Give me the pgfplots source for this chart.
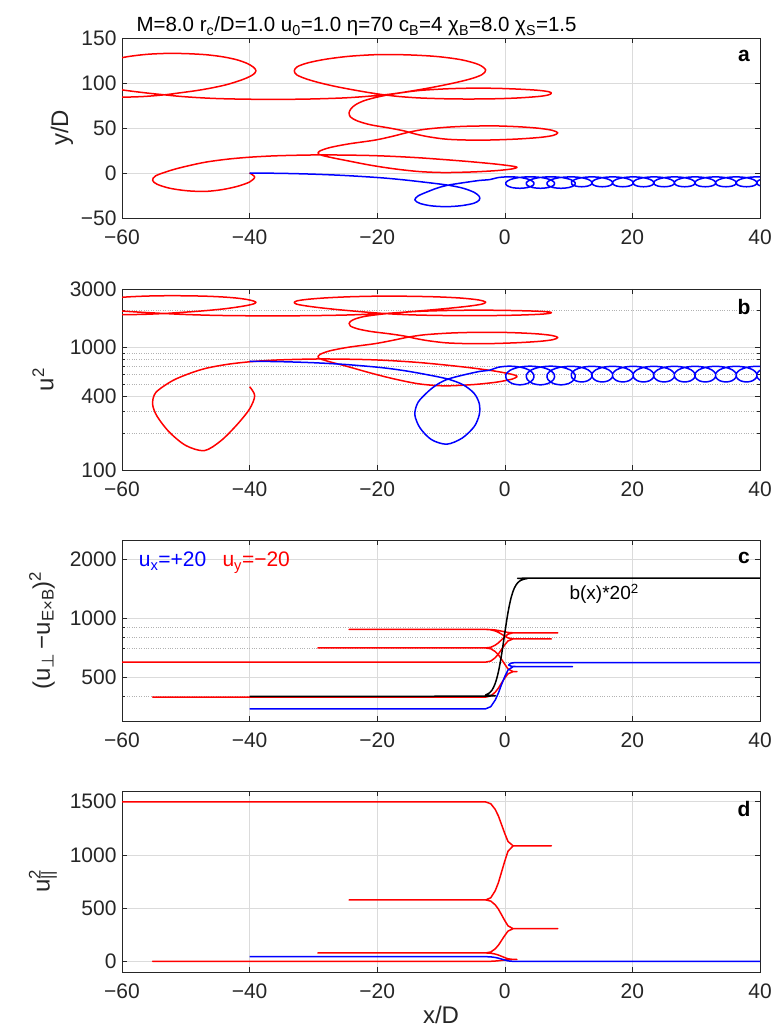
\documentclass[border=0pt]{standalone}
\usepackage{fontspec}
\setmainfont{Liberation Sans}
\newfontfamily\dejavu{DejaVu Sans}
\usepackage{pgfplots}
\pgfplotsset{compat=1.18}
\definecolor{mred}{rgb}{1,0,0}
\definecolor{mblue}{rgb}{0,0,1}
\definecolor{axgray}{HTML}{262626}
\pgfplotsset{
  mpanel/.style={
    scale only axis, width=638pt, height=180pt,
    xmin=-60, xmax=40, xtick={-60,-40,-20,0,20,40},
    xticklabels={−60,−40,−20,0,20,40},
    tick align=inside, major tick length=5pt, minor tick length=3pt,
    grid=major, major grid style={draw=black!14, line width=0.6pt},
    minor grid style={draw=black!30, dotted, line width=0.6pt},
    axis line style={draw=axgray, line width=0.7pt},
    every tick/.style={draw=axgray, line width=0.6pt},
    tick label style={font=\fontsize{21}{21}\selectfont, text=axgray},
    xticklabel style={yshift=-8pt},
    yticklabel style={xshift=-2pt},
  },
  traj/.style={line width=1.5pt, line join=round},
}
\newcommand{\plab}[1]{\node[font=\bfseries\fontsize{21}{21}\selectfont] at (rel axis cs:0.975,0.9) {#1};}

\begin{document}
\begin{tikzpicture}
\useasboundingbox (0pt,0pt) rectangle (772pt,-1030pt);

% ---------- a: trajectories ----------
\begin{axis}[mpanel, at={(122pt,-38pt)}, anchor=north west,
  ymin=-50, ymax=150, ytick={-50,0,50,100,150}, yticklabels={−50,0,50,100,150}]
\addplot[traj, mred, smooth] coordinates {
(-40,0) (-39.2,-4.5) (-40,-10) (-42,-15) (-44.5,-18.7) (-47.1,-20.5) (-50,-19.6) (-52.6,-16.8) (-54.5,-12.5) (-55.2,-8.2) (-54.7,-3) (-52.1,3.5) (-49.3,8.5) (-46.7,12.3) (-43.3,15.5) (-39.9,17.6) (-36.3,19) (-32.8,19.7) (-29,20.1) (-25,19.9) (-21,19.4) (-17.3,18.4) (-13.4,16.9) (-9.5,14.9) (-5.6,12.7) (-1.8,10.2) (0.5,8.3) (1.7,7.0) (1.9,6.0) (1.2,4.6) (-0.3,3.3) (-1.8,2.4) (-5,1.2) (-9.5,0.5) (-13.4,1.6) (-17.3,4.6) (-21,8.6) (-24.8,13.8) (-27.6,17.8) (-29.2,21) (-29,24.4) (-27.4,28.3) (-24.5,32.3) (-20.4,36.5) (-17.7,40.6) (-15,45.4) (-12.5,48.6) (-9,50.9) (-5.7,52) (-1.5,52.3) (2.1,51.4) (5.2,49.8) (7.4,47.5) (8.3,44.7) (7.6,41.8) (5.6,39.6) (2.1,37.8) (-2,36.7) (-5.7,36.6) (-9.2,37.6) (-12,40.3) (-14,43.3) (-15.8,46.8) (-18.2,50.1) (-21,53.5) (-23.1,57.8) (-24.2,62.3) (-24.4,67) (-24.1,71.5) (-23.4,75.8) (-22.2,80) (-20.6,83.3) (-18.6,86.4) (-16,89.4) (-13.2,91.8) (-9.2,93.5) (-5.7,94.2) (-1.5,94.1) (2.1,93.2) (5.2,91.9) (6.9,90.3) (7.3,88.6) (6.8,86.7) (5.4,85.1) (2.1,83.4) (-1.5,82.5) (-5.7,82.2) (-9.5,82.5) (-13.4,83.4) (-16.6,85) (-19.3,87.2) (-21.6,89.7) (-23.7,92.3) (-26.3,95.8) (-28.9,100) (-31.1,104.5) (-32.6,109) (-33,113.6) (-32.5,118.2) (-30.8,122.5) (-28,126.5) (-24.2,129.8) (-19.6,131.6) (-15,131.2) (-10.6,129.4) (-6.8,125.8) (-4.1,120.5) (-3,114.5) (-3.6,109.2) (-5.5,104.3) (-8.5,99.2) (-12.4,93.8) (-17.3,88.2) (-21,85.5) (-25,83.5) (-30,82.3) (-35,81.8) (-40.5,82) (-45,82.7) (-48.2,83.8) (-51,85.2) (-53.3,86.8) (-56.5,89.2) (-60,92.4) (-62.8,96.5) (-64.5,102) (-65.2,108) (-65,114) (-63.8,120) (-61.8,125.3) (-59,129.4) (-56,131.9) (-52.8,132.9) (-49.8,132.6) (-46.8,131.4) (-44.2,129.1) (-42,125.8) (-40.4,121.8) (-39.4,117.6) (-39,113.6) (-39.4,109.6) (-40.4,105.8) (-41.9,101.8) (-43.8,97.8) (-46.1,94.3) (-48.4,91.5) (-51,89) (-53.3,86.9) (-56.6,85) (-60,84.2) (-64,83.9) (-68,84.6)
};
\addplot[traj, mblue, smooth] coordinates {
(-40,0) (-35,-0.4) (-30,-1.3) (-25,-2.8) (-19.6,-5.2) (-16,-7.5) (-12.5,-10.3) (-8.9,-13.5) (-6.5,-17) (-4.8,-21.5) (-4,-26) (-4,-30) (-4.8,-33.5) (-6.7,-36.2) (-9.1,-37.4) (-11.5,-36.5) (-13.3,-33.8) (-14.1,-30) (-13.6,-25.5) (-12,-20.5) (-10.5,-16.5) (-8.9,-13.5) (-6.5,-10.8) (-3.9,-8.2) (-2.4,-7.4) (-1.03,-5.06)
(0.74,-4.2) (2.51,-5.06) (3.88,-7.4) (4.55,-10.6) (4.42,-13.8) (3.59,-16.14) (2.36,-17) (1.12,-16.14) (0.30,-13.8) (0.16,-10.6) (0.83,-7.4) (2.20,-5.06)
(3.97,-4.2) (5.74,-5.06) (7.11,-7.4) (7.78,-10.6) (7.65,-13.8) (6.82,-16.14) (5.59,-17) (4.35,-16.14) (3.53,-13.8) (3.39,-10.6) (4.06,-7.4) (5.43,-5.06)
(7.20,-4.2) (8.97,-5.06) (10.34,-7.4) (11.01,-10.6) (10.88,-13.8) (10.05,-16.14) (8.82,-17) (7.58,-16.14) (6.76,-13.8) (6.62,-10.6) (7.29,-7.4) (8.66,-5.06)
(10.43,-4.3) (11.90,-5.04) (13.05,-7.05) (13.64,-9.8) (13.59,-12.55) (12.98,-14.56) (12.05,-15.3) (11.11,-14.56) (10.51,-12.55) (10.45,-9.8) (11.04,-7.05) (12.19,-5.04)
(13.66,-4.3) (15.13,-5.04) (16.28,-7.05) (16.87,-9.8) (16.82,-12.55) (16.21,-14.56) (15.28,-15.3) (14.34,-14.56) (13.74,-12.55) (13.68,-9.8) (14.27,-7.05) (15.42,-5.04)
(16.89,-4.3) (18.36,-5.04) (19.51,-7.05) (20.10,-9.8) (20.05,-12.55) (19.44,-14.56) (18.51,-15.3) (17.57,-14.56) (16.97,-12.55) (16.91,-9.8) (17.50,-7.05) (18.65,-5.04)
(20.12,-4.3) (21.59,-5.04) (22.74,-7.05) (23.33,-9.8) (23.28,-12.55) (22.67,-14.56) (21.74,-15.3) (20.80,-14.56) (20.20,-12.55) (20.14,-9.8) (20.73,-7.05) (21.88,-5.04)
(23.35,-4.3) (24.82,-5.04) (25.97,-7.05) (26.56,-9.8) (26.51,-12.55) (25.90,-14.56) (24.97,-15.3) (24.03,-14.56) (23.43,-12.55) (23.37,-9.8) (23.96,-7.05) (25.11,-5.04)
(26.58,-4.3) (28.05,-5.04) (29.20,-7.05) (29.79,-9.8) (29.74,-12.55) (29.13,-14.56) (28.20,-15.3) (27.26,-14.56) (26.66,-12.55) (26.60,-9.8) (27.19,-7.05) (28.34,-5.04)
(29.81,-4.3) (31.28,-5.04) (32.43,-7.05) (33.02,-9.8) (32.97,-12.55) (32.36,-14.56) (31.43,-15.3) (30.49,-14.56) (29.89,-12.55) (29.83,-9.8) (30.42,-7.05) (31.57,-5.04)
(33.04,-4.3) (34.51,-5.04) (35.66,-7.05) (36.25,-9.8) (36.20,-12.55) (35.59,-14.56) (34.66,-15.3) (33.72,-14.56) (33.12,-12.55) (33.06,-9.8) (33.65,-7.05) (34.80,-5.04)
(36.27,-4.3) (37.74,-5.04) (38.89,-7.05) (39.48,-9.8) (39.43,-12.55) (38.82,-14.56) (37.89,-15.3) (36.95,-14.56) (36.35,-12.55) (36.29,-9.8) (36.88,-7.05) (38.03,-5.04)
(39.50,-4.3) (40.97,-5.04) (42.12,-7.05) (42.71,-9.8) (42.66,-12.55) (42.05,-14.56) (41.12,-15.3) (40.18,-14.56) (39.58,-12.55) (39.52,-9.8) (40.11,-7.05) (41.26,-5.04) (42.73,-4.3)
};
\plab{a}
\end{axis}

% ---------- b: u^2 ----------
\begin{axis}[mpanel, at={(122pt,-289pt)}, anchor=north west, height=181pt,
  ymode=log, ymin=100, ymax=3000, ytick={100,400,1000,3000}, yticklabels={100,400,1000,3000},
  minor ytick={200,300,500,600,700,800,900,2000}, yminorgrids=true]
\addplot[traj, mred, smooth] coordinates {
(-40,478) (-39.2,404.7) (-40,315) (-42,233.5) (-44.5,173.2) (-47.1,143.9) (-50,158.5) (-52.6,204.2) (-54.5,274.3) (-55.2,344.3) (-54.7,429.1) (-52.1,535.1) (-49.3,616.6) (-46.7,678.5) (-43.3,730.7) (-39.9,764.9) (-36.3,787.7) (-32.8,799.1) (-29,805.6) (-25,802.4) (-21,794.2) (-17.3,777.9) (-13.4,753.5) (-9.5,720.9) (-5.6,685) (-1.8,644.3) (0.5,613.3) (1.7,592.1) (1.9,575.8) (1.2,553) (-0.3,531.8) (-1.8,517.1) (-5,497.6) (-9.5,486.2) (-13.4,504.1) (-17.3,553) (-21,618.2) (-24.8,702.9) (-27.6,768.1) (-29.2,820.3) (-29,875.7) (-27.4,939.3) (-24.5,1004.5) (-20.4,1073) (-17.7,1139.8) (-15,1218) (-12.5,1270.2) (-9,1307.7) (-5.7,1325.6) (-1.5,1330.5) (2.1,1315.8) (5.2,1289.7) (7.4,1252.3) (8.3,1206.6) (7.6,1159.3) (5.6,1123.5) (2.1,1094.1) (-2,1076.2) (-5.7,1074.6) (-9.2,1090.9) (-12,1134.9) (-14,1183.8) (-15.8,1240.8) (-18.2,1294.6) (-21,1350.1) (-23.1,1420.1) (-24.2,1493.5) (-24.4,1570.1) (-24.1,1643.5) (-23.4,1713.5) (-22.2,1782) (-20.6,1835.8) (-18.6,1886.3) (-16,1935.2) (-13.2,1974.3) (-9.2,2002.1) (-5.7,2013.5) (-1.5,2011.8) (2.1,1997.2) (5.2,1976) (6.9,1949.9) (7.3,1922.2) (6.8,1891.2) (5.4,1865.1) (2.1,1837.4) (-1.5,1822.8) (-5.7,1817.9) (-9.5,1822.8) (-13.4,1837.4) (-16.6,1863.5) (-19.3,1899.4) (-21.6,1940.1) (-23.7,1982.5) (-26.3,2039.5) (-28.9,2108) (-31.1,2181.4) (-32.6,2254.7) (-33,2329.7) (-32.5,2404.7) (-30.8,2474.8) (-28,2540) (-24.2,2593.7) (-19.6,2623.1) (-15,2616.6) (-10.6,2587.2) (-6.8,2528.5) (-4.1,2442.2) (-3,2344.4) (-3.6,2258) (-5.5,2178.1) (-8.5,2095) (-12.4,2007) (-17.3,1915.7) (-21,1871.7) (-25,1839.1) (-30,1819.5) (-35,1811.3) (-40.5,1814.6) (-45,1826) (-48.2,1843.9) (-51,1866.8) (-53.3,1892.8) (-56.5,1932) (-60,1984.1) (-62.8,2051) (-64.5,2140.6) (-65.2,2238.4) (-65,2336.2) (-63.8,2434) (-61.8,2520.4) (-59,2587.2) (-56,2628) (-52.8,2644.3) (-49.8,2639.4) (-46.8,2619.8) (-44.2,2582.3) (-42,2528.5) (-40.4,2463.3) (-39.4,2394.9) (-39,2329.7) (-39.4,2264.5) (-40.4,2202.5) (-41.9,2137.3) (-43.8,2072.1) (-46.1,2015.1) (-48.4,1969.5) (-51,1928.7) (-53.3,1894.5) (-56.6,1863.5) (-60,1850.5) (-64,1845.6) (-68,1857)
};
\addplot[traj, mblue, smooth] coordinates {
(-40,772) (-35,765.5) (-30,750.8) (-25,726.4) (-19.6,687.2) (-16,649.8) (-12.5,604.1) (-8.9,552) (-6.5,494.9) (-4.8,421.6) (-4,348.2) (-4,283) (-4.8,225.9) (-6.7,181.9) (-9.1,162.4) (-11.5,177) (-13.3,221) (-14.1,283) (-13.6,356.4) (-12,437.9) (-10.5,503) (-8.9,552) (-6.5,596) (-3.9,638.3) (-2.4,651.4) (-1.03,689.5)
(0.74,703.5) (2.51,689.5) (3.88,651.4) (4.55,599.2) (4.42,547.1) (3.59,508.9) (2.36,494.9) (1.12,508.9) (0.30,547.1) (0.16,599.2) (0.83,651.4) (2.20,689.5)
(3.97,703.5) (5.74,689.5) (7.11,651.4) (7.78,599.2) (7.65,547.1) (6.82,508.9) (5.59,494.9) (4.35,508.9) (3.53,547.1) (3.39,599.2) (4.06,651.4) (5.43,689.5)
(7.20,703.5) (8.97,689.5) (10.34,651.4) (11.01,599.2) (10.88,547.1) (10.05,508.9) (8.82,494.9) (7.58,508.9) (6.76,547.1) (6.62,599.2) (7.29,651.4) (8.66,689.5)
(10.43,701.9) (11.90,689.8) (13.05,657.1) (13.64,612.3) (13.59,567.4) (12.98,534.7) (12.05,522.6) (11.11,534.7) (10.51,567.4) (10.45,612.3) (11.04,657.1) (12.19,689.8)
(13.66,701.9) (15.13,689.8) (16.28,657.1) (16.87,612.3) (16.82,567.4) (16.21,534.7) (15.28,522.6) (14.34,534.7) (13.74,567.4) (13.68,612.3) (14.27,657.1) (15.42,689.8)
(16.89,701.9) (18.36,689.8) (19.51,657.1) (20.10,612.3) (20.05,567.4) (19.44,534.7) (18.51,522.6) (17.57,534.7) (16.97,567.4) (16.91,612.3) (17.50,657.1) (18.65,689.8)
(20.12,701.9) (21.59,689.8) (22.74,657.1) (23.33,612.3) (23.28,567.4) (22.67,534.7) (21.74,522.6) (20.80,534.7) (20.20,567.4) (20.14,612.3) (20.73,657.1) (21.88,689.8)
(23.35,701.9) (24.82,689.8) (25.97,657.1) (26.56,612.3) (26.51,567.4) (25.90,534.7) (24.97,522.6) (24.03,534.7) (23.43,567.4) (23.37,612.3) (23.96,657.1) (25.11,689.8)
(26.58,701.9) (28.05,689.8) (29.20,657.1) (29.79,612.3) (29.74,567.4) (29.13,534.7) (28.20,522.6) (27.26,534.7) (26.66,567.4) (26.60,612.3) (27.19,657.1) (28.34,689.8)
(29.81,701.9) (31.28,689.8) (32.43,657.1) (33.02,612.3) (32.97,567.4) (32.36,534.7) (31.43,522.6) (30.49,534.7) (29.89,567.4) (29.83,612.3) (30.42,657.1) (31.57,689.8)
(33.04,701.9) (34.51,689.8) (35.66,657.1) (36.25,612.3) (36.20,567.4) (35.59,534.7) (34.66,522.6) (33.72,534.7) (33.12,567.4) (33.06,612.3) (33.65,657.1) (34.80,689.8)
(36.27,701.9) (37.74,689.8) (38.89,657.1) (39.48,612.3) (39.43,567.4) (38.82,534.7) (37.89,522.6) (36.95,534.7) (36.35,567.4) (36.29,612.3) (36.88,657.1) (38.03,689.8)
(39.50,701.9) (40.97,689.8) (42.12,657.1) (42.71,612.3) (42.66,567.4) (42.05,534.7) (41.12,522.6) (40.18,534.7) (39.58,567.4) (39.52,612.3) (40.11,657.1) (41.26,689.8) (42.73,701.9)
};
\plab{b}
\end{axis}

% ---------- c: (u_perp - u_ExB)^2 ----------
\begin{axis}[mpanel, at={(122pt,-540pt)}, anchor=north west, height=181pt,
  ymode=log, ymin=300, ymax=2500, ytick={500,1000,2000}, yticklabels={500,1000,2000},
  minor ytick={300,400,600,700,800,900}, yminorgrids=true]
\addplot[traj, mred] coordinates {
(-40,397) (-55.2,397) (-3,397) (-2.2,402.5) (-1.5,420.5) (-1,441.2) (-0.5,468.8) (0,496.4) (0.5,521.2) (1.3,535) (1.9,535) (1.3,535)
(0.5,552.1) (0,582.9) (-0.5,617.1) (-1,651.3) (-1.5,676.9) (-2.2,699.2) (-3,706) (-29.3,706) (-3,706)
(-2.2,711.5) (-1.5,729.3) (-1,749.8) (-0.5,777.2) (0,804.6) (0.5,829.3) (1.3,843) (8.3,843) (1.3,843)
(0.5,846.4) (0,852.5) (-0.5,859.3) (-1,866.1) (-1.5,871.2) (-2.2,875.6) (-3,877) (-24.4,877) (-3,877)
(-2.2,873.3) (-1.5,861.4) (-1,847.6) (-0.5,829.2) (0,810.8) (0.5,794.2) (1.3,785) (7.3,785) (1.3,785)
(0.5,766.3) (0,732.6) (-0.5,695.2) (-1,657.8) (-1.5,629.8) (-2.2,605.5) (-3,598) (-70,598)
};
\addplot[traj, mblue] coordinates {
(-40,346) (-3,346) (-2.2,354.8) (-1.5,383.6) (-1,416.7) (-0.5,460.9) (0,505.1) (0.5,544.9) (1.3,567) (10.6,567) (2,567) (1,570) (0.6,578) (0.9,590) (1.6,595) (40,595)
};
\addplot[traj, black, smooth] coordinates {
(-40,400) (-4,401.5) (-3,407) (-2.5,415) (-2,431) (-1.5,466) (-1,534) (-0.5,655) (0,842) (0.5,1069) (1,1277) (1.5,1425) (2,1512) (2.5,1558) (3,1580) (3.5,1591) (4.5,1598) (40,1600)
};
\node[anchor=base west, text=mblue, font=\fontsize{21}{21}\selectfont] at (rel axis cs:0.021,0.851) {u\textsubscript{x}=+20};
\node[anchor=base west, text=mred, font=\fontsize{21}{21}\selectfont] at (rel axis cs:0.152,0.851) {u\textsubscript{y}=−20};
\node[anchor=base west, text=black, font=\fontsize{19}{19}\selectfont] at (rel axis cs:0.696,0.669) {b(x)*20\textsuperscript{2}};
\plab{c}
\end{axis}

% ---------- d: u_par^2 ----------
\begin{axis}[mpanel, at={(122pt,-791pt)}, anchor=north west, height=181pt,
  ymin=-100, ymax=1600, ytick={0,500,1000,1500}, yticklabels={0,500,1000,1500}]
\addplot[traj, mred] coordinates {
(-40,0) (-55.2,0) (-3,0) (-2.2,0.7) (-1.5,3.1) (-1,5.8) (-0.5,9.4) (0,13) (0.5,16.2) (1.3,18) (1.9,18) (1.3,18)
(0.5,24.1) (0,35.1) (-0.5,47.3) (-1,59.5) (-1.5,68.6) (-2.2,76.6) (-3,79) (-29.3,79) (-3,79)
(-2.2,88.1) (-1.5,117.8) (-1,152) (-0.5,197.6) (0,243.2) (0.5,284.2) (1.3,307) (8.3,307) (1.3,307)
(0.5,334) (0,382.6) (-0.5,436.6) (-1,490.6) (-1.5,531.1) (-2.2,566.2) (-3,577) (-24.4,577) (-3,577)
(-2.2,597.3) (-1.5,663.4) (-1,739.6) (-0.5,841.2) (0,942.8) (0.5,1034.2) (1.3,1085) (7.3,1085) (1.3,1085)
(0.5,1126.2) (0,1200.4) (-0.5,1282.8) (-1,1365.2) (-1.5,1427) (-2.2,1480.5) (-3,1497) (-70,1497)
};
\addplot[traj, mblue] coordinates {
(-40,44) (-3,44) (-2.2,42.2) (-1.5,36.5) (-1,29.9) (-0.5,21.1) (0,12.3) (0.5,4.4) (1.3,0) (40,0)
};
\plab{d}
\end{axis}

% ---------- title and axis labels ----------
\node[anchor=base west, font=\fontsize{20.5}{20.5}\selectfont] at (133pt,-32pt)
  {M=8.0 r\textsubscript{c}/D=1.0 u\textsubscript{0}=1.0 η=70 c\textsubscript{B}=4 χ\textsubscript{B}=8.0 χ\textsubscript{S}=1.5};
\node[rotate=90, text=axgray, font=\fontsize{24}{24}\selectfont] at (62pt,-128pt) {y/D};
\node[rotate=90, text=axgray, font=\fontsize{24}{24}\selectfont] at (43pt,-379.5pt) {u\textsuperscript{2}};
\node[rotate=90, text=axgray, font=\fontsize{24}{24}\selectfont] at (42pt,-630.5pt)
  {(u\textsubscript{\dejavu ⊥}\,−u\textsubscript{E×B})\textsuperscript{2}};
\node[rotate=90, text=axgray, font=\fontsize{24}{24}\selectfont] at (43pt,-881.5pt)
  {u\rlap{\textsuperscript{2}}\textsubscript{||}};
\node[text=axgray, font=\fontsize{24}{24}\selectfont] at (441pt,-1015pt) {x/D};
\end{tikzpicture}
\end{document}
